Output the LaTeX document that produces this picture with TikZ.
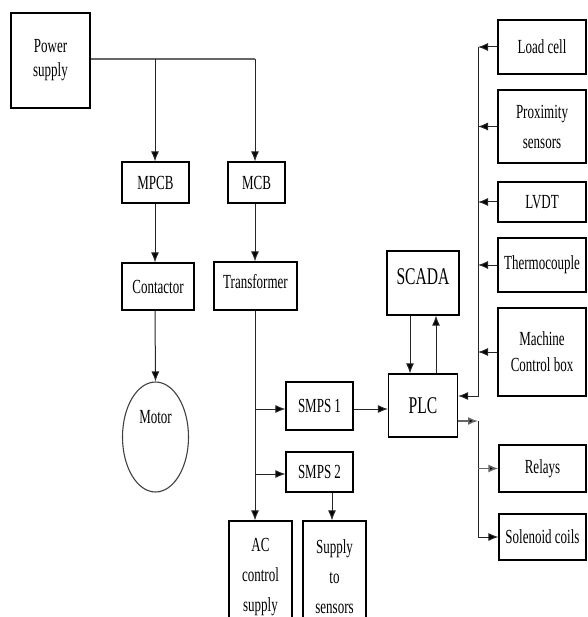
\documentclass[tikz,border=0pt]{standalone}
\usepackage{fontspec}
\setmainfont{Liberation Serif}[FakeStretch=0.65]
\usetikzlibrary{shapes.geometric,arrows.meta}
\tikzset{
  blk/.style={draw, line width=1.2pt, align=center, inner sep=2pt, font=\fontsize{20}{26}\selectfont},
  arr/.style={->, line width=1pt, draw=black!85},
  bus/.style={line width=2.8pt, draw=black!60},
  >={Latex[length=10pt,width=8pt,fill=black]}
}
\begin{document}
\begin{tikzpicture}[x=1pt,y=-1pt]
\useasboundingbox (0,0) rectangle (587,617);
% supply side
\node[blk, minimum width=79, minimum height=95, font=\fontsize{20}{24}\selectfont] (psu) at (50.5,60.5) {Power\\supply};
\node[blk, minimum width=67, minimum height=41] (mpcb) at (155.5,182.5) {MPCB};
\node[blk, minimum width=57, minimum height=41] (mcb) at (256.5,182.5) {MCB};
\node[blk, minimum width=72, minimum height=47] (contactor) at (158,286.5) {Contactor};
\node[blk, minimum width=83, minimum height=48, text depth=10pt] (transformer) at (255.5,286) {Transformer};
\node[draw, ellipse, line width=1.1pt, draw=black!75, minimum width=66, minimum height=110, inner sep=0pt, text depth=40pt, font=\fontsize{20}{26}\selectfont] (motor) at (155.5,437) {Motor};
\node[blk, minimum width=67, minimum height=48] (smps1) at (319.5,406) {SMPS 1};
\node[blk, minimum width=67, minimum height=40] (smps2) at (319.5,472) {SMPS 2};
\node[blk, minimum width=63, minimum height=112, font=\fontsize{20}{30}\selectfont] (acsup) at (260.5,577) {AC\\control\\supply};
\node[blk, minimum width=63, minimum height=112, font=\fontsize{20}{30}\selectfont] (tosens) at (334.5,577) {Supply\\to\\sensors};
% control side
\node[blk, minimum width=69, minimum height=63, font=\fontsize{24}{28}\selectfont] (plc) at (423,405.5) {PLC};
\node[blk, minimum width=72, minimum height=64, font=\fontsize{24}{28}\selectfont, text depth=12pt] (scada) at (423,283) {SCADA};
\node[blk, minimum width=88, minimum height=54] (loadcell) at (542,47) {Load cell};
\node[blk, minimum width=88, minimum height=73, font=\fontsize{20}{30}\selectfont] (prox) at (542,126.5) {Proximity\\sensors};
\node[blk, minimum width=88, minimum height=40] (lvdt) at (542,202) {LVDT};
\node[blk, minimum width=88, minimum height=54] (thermo) at (542,265) {Thermocouple};
\node[blk, minimum width=88, minimum height=88] (mcbox) at (542,352) {Machine\\Control box};
\node[blk, minimum width=87, minimum height=47] (relays) at (542.5,468.5) {Relays};
\node[blk, minimum width=87, minimum height=46] (solenoid) at (542.5,537) {Solenoid coils};
% junctions
\coordinate (j1) at (155,59);
\coordinate (j2) at (255,59);
\coordinate (t1) at (255,409);
\coordinate (t2) at (255,474);
\coordinate (ibus) at (478,396);
\coordinate (obus) at (478,421);
% connectors
\draw[bus] (psu.east |- j2) -- (j2);
\draw[arr] (j1) -- (j1 |- mpcb.north);
\draw[arr] (j2) -- (j2 |- mcb.north);
\draw[arr] (mpcb.south -| j1) -- (j1 |- contactor.north);
\draw[arr] (contactor.south -| j1) -- (motor.north);
\draw[arr] (mcb.south -| j2) -- (j2 |- transformer.north);
\draw[arr] (transformer.south -| t1) -- (t1 |- acsup.north);
\draw[arr] (t1) -- (t1 -| smps1.west);
\draw[arr] (t2) -- (t2 -| smps2.west);
\draw[arr] ([xshift=12.5pt]smps2.south) -- ([xshift=12.5pt]smps2.south |- tosens.north);
\draw[arr] (smps1.east |- t1) -- (t1 -| plc.west);
\draw[arr] ([xshift=-13pt]scada.south) -- ([xshift=-13pt]scada.south |- plc.north);
\draw[arr] ([xshift=13pt]plc.north) -- ([xshift=13pt]plc.north |- scada.south);
\draw[arr] (loadcell.west -| ibus) -- (ibus) -- (ibus -| plc.east);
\draw[arr] (loadcell.west) -- (loadcell.west -| ibus);
\draw[arr] (prox.west) -- (prox.west -| ibus);
\draw[arr] (lvdt.west) -- (lvdt.west -| ibus);
\draw[arr] (thermo.west) -- (thermo.west -| ibus);
\draw[arr] (mcbox.west) -- (mcbox.west -| ibus);
\draw[arr, line width=1.5pt, draw=black!60] (plc.east |- obus) -- (obus);
\draw[arr] (obus) -- (obus |- solenoid) -- (solenoid.west);
\draw[arr, line width=1.5pt, draw=black!60] (obus |- relays) -- (relays.west);
\end{tikzpicture}
\end{document}
